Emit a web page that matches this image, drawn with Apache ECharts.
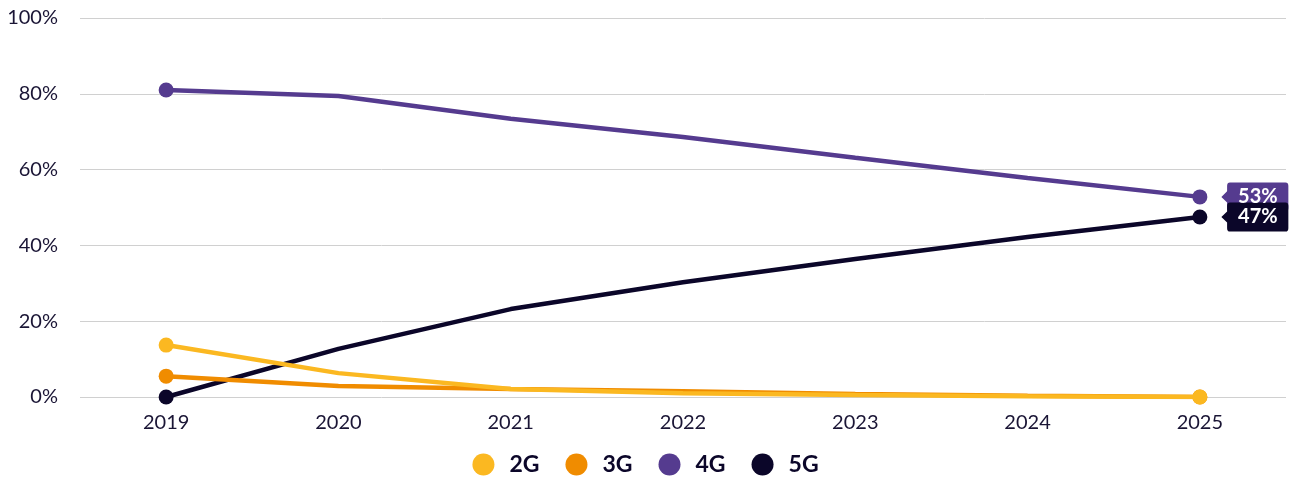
<!DOCTYPE html>
<html><head><meta charset="utf-8">
<script src="https://cdn.jsdelivr.net/npm/echarts@6/dist/echarts.min.js"></script>
<style>html,body{margin:0;padding:0;background:#fff}#c{width:1291px;height:478px}</style>
</head><body><div id="c"></div>
<script>
const years = ['2019','2020','2021','2022','2023','2024','2025'];
const g2 = [13.7, 6.3, 2.1, 1.0, 0.5, 0.2, 0];
const g3 = [5.5, 2.9, 2.1, 1.5, 0.8, 0.3, 0];
const g4 = [81.0, 79.4, 73.4, 68.6, 63.1, 57.8, 52.8];
const g5 = [0, 12.7, 23.2, 30.3, 36.4, 42.2, 47.5];
const names = ['2G','3G','4G','5G'];
const colors = ['#FBB821','#F08C00','#553B8F','#0B0629'];
const endLabels = {'4G':'53%','5G':'47%'};

const FONT = 'Lato, "Noto Sans", sans-serif';
const tag = 'path://M0,13 L6,8 L6,3 Q6,0 9,0 L67,0 Q70,0 70,3 L70,23 Q70,26 67,26 L9,26 Q6,26 6,23 L6,18 Z';

function mk(name, data, color){
  const s = {
    name, type:'line', color,
    symbol:'circle', showSymbol:true,
    lineStyle:{width:4.5, color},
    itemStyle:{color},
    z: name==='2G'?5:(name==='3G'?4:3)
  };
  s.data = data.map((v,i)=>({value:v, symbolSize:(i===0||i===data.length-1)?15:0}));
  if(endLabels[name]){
    s.markPoint = {
      symbol: tag, symbolSize:[67,29], symbolKeepAspect:false, symbolOffset:[55,0],
      itemStyle:{color},
      label:{show:true, formatter:endLabels[name], color:'#fff', fontFamily:FONT, fontWeight:'bold', fontSize:20, offset:[3,0]},
      data:[{coord:[years.length-1, data[data.length-1]]}]
    };
  }
  return s;
}

const chart = echarts.init(document.getElementById('c'));
chart.setOption({
  animation:false,
  grid:{left:80, right:5, top:18, bottom:81},
  legend:{
    top:453, left:'center', icon:'circle', itemWidth:22, itemHeight:22, itemGap:26, padding:0,
    textStyle:{fontFamily:FONT, fontWeight:'bold', fontSize:23, color:'#0B0629', padding:[0,0,0,10]},
    data:names
  },
  xAxis:{
    type:'category', data:years, boundaryGap:true,
    axisLine:{show:false}, axisTick:{show:false},
    axisLabel:{fontFamily:FONT, fontSize:20, color:'#1a1535', margin:16}
  },
  yAxis:{
    type:'value', min:0, max:100, interval:20,
    axisLabel:{formatter:'{value}%', fontFamily:FONT, fontSize:20, color:'#1a1535', margin:22},
    splitLine:{lineStyle:{color:'#d0d0d0', width:1}},
    axisLine:{show:false}, axisTick:{show:false}
  },
  series:[mk('2G',g2,colors[0]), mk('3G',g3,colors[1]), mk('4G',g4,colors[2]), mk('5G',g5,colors[3])]
});
</script></body></html>
